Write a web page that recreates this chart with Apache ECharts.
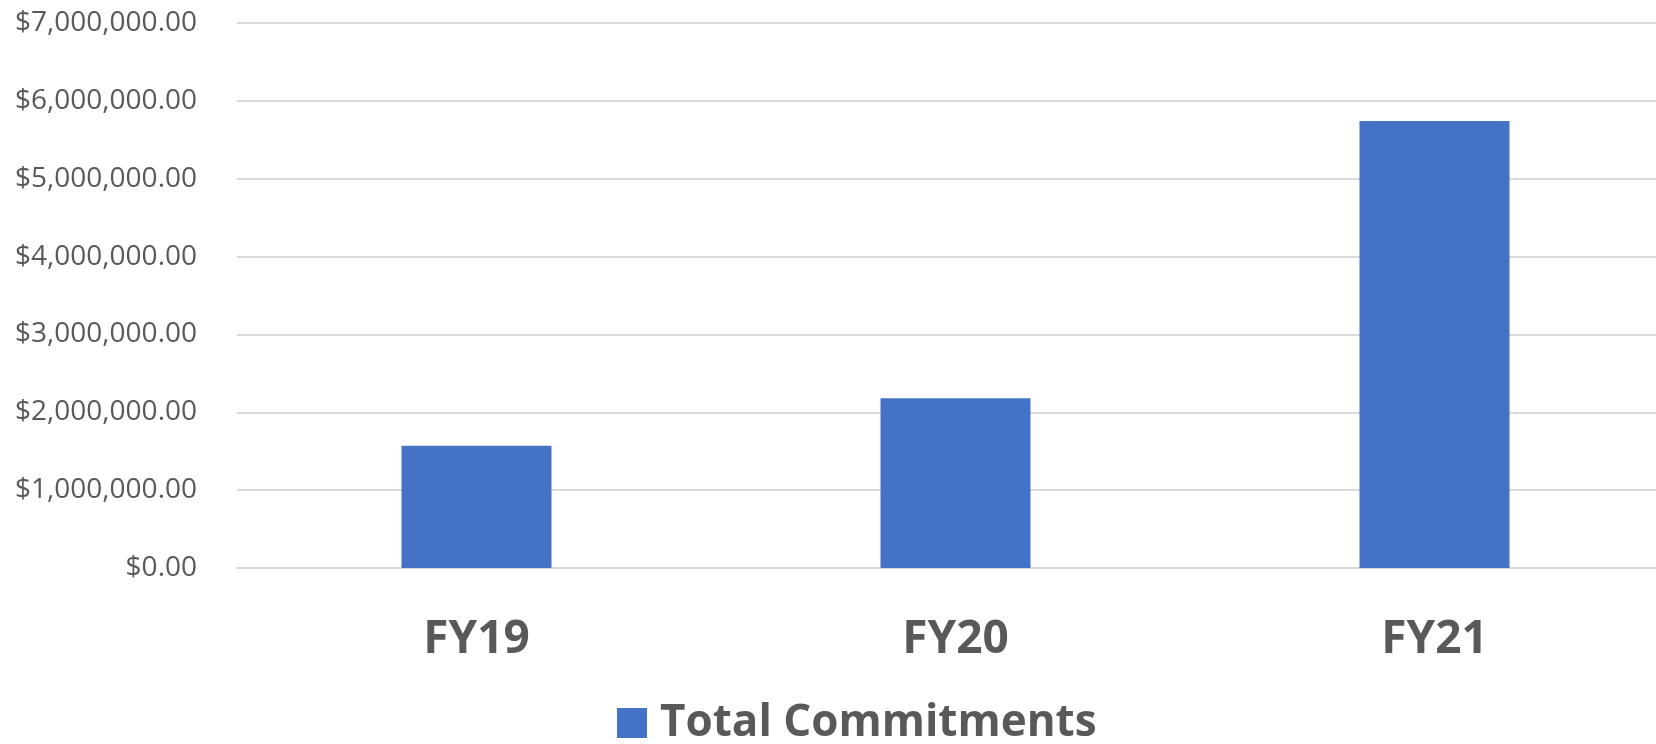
<!DOCTYPE html>
<html>
<head>
<meta charset="utf-8">
<script src="https://cdn.jsdelivr.net/npm/echarts@6/dist/echarts.min.js"></script>
<style>
  html, body { margin: 0; padding: 0; background: #fff; }
  #chart { width: 1656px; height: 744px; }
</style>
</head>
<body>
<div id="chart"></div>
<script>
var categories = ['FY19', 'FY20', 'FY21'];
var commitments = [1570000, 2180000, 5740000];
var seriesName = 'Total Commitments';

var myChart = echarts.init(document.getElementById('chart'));
var option = {
    animation: false,
    legend: {
        left: 617,
        top: 701,
        padding: 0,
        itemWidth: 30,
        itemHeight: 30,
        icon: 'rect',
        textStyle: {
            color: '#595959',
            fontFamily: 'Open Sans',
            fontWeight: 'bold',
            fontSize: 44,
            padding: [0, 0, 0, 8]
        },
        data: [seriesName]
    },
    grid: {
        left: 237,
        top: 23,
        width: 1437,
        bottom: 176,
        outerBoundsMode: 'none',
        containLabel: false
    },
    xAxis: {
        type: 'category',
        data: categories,
        axisTick: { show: false },
        axisLine: { lineStyle: { color: '#D9D9D9', width: 2 } },
        axisLabel: {
            margin: 49,
            color: '#595959',
            fontFamily: 'Open Sans',
            fontWeight: 'bold',
            fontSize: 46
        }
    },
    yAxis: {
        type: 'value',
        min: 0,
        max: 7000000,
        interval: 1000000,
        axisLine: { show: false },
        axisTick: { show: false },
        splitLine: { lineStyle: { color: '#D9D9D9', width: 2 } },
        axisLabel: {
            margin: 40,
            color: '#595959',
            fontFamily: 'Open Sans',
            fontSize: 28,
            formatter: function (value) {
                return '$' + value.toLocaleString('en-US', { minimumFractionDigits: 2, maximumFractionDigits: 2 });
            }
        }
    },
    series: [{
        name: seriesName,
        type: 'bar',
        data: commitments,
        barWidth: 150,
        itemStyle: { color: '#4472C4' }
    }]
};
myChart.setOption(option);
</script>
</body>
</html>
